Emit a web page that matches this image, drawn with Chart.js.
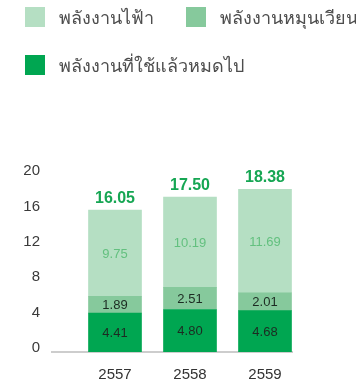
<!DOCTYPE html>
<html>
<head>
<meta charset="utf-8">
<script src="https://cdn.jsdelivr.net/npm/chart.js@4.4.1/dist/chart.umd.min.js"></script>
<style>
  html, body { margin: 0; padding: 0; background: #fff; }
  #wrap { position: relative; width: 356px; height: 383px; }
  #legend {
    position: absolute; left: 25px; top: 7px;
    display: grid; grid-template-columns: 161px auto; row-gap: 28px;
    font-family: "Liberation Sans", Arial, sans-serif; font-size: 18px; color: #4d4d4d;
  }
  .item { display: flex; align-items: center; height: 20px; white-space: nowrap; }
  .item.wide { grid-column: 1 / span 2; }
  .box { width: 20px; height: 20px; margin-right: 14px; flex: none; }
</style>
</head>
<body>
<div id="wrap">
  <canvas id="energyChart" width="356" height="383"></canvas>
  <div id="legend"></div>
</div>
<script>
// years (Buddhist era) and energy use per type
const years = [2557, 2558, 2559];
const fossil = [4.41, 4.80, 4.68];      // พลังงานที่ใช้แล้วหมดไป
const renewable = [1.89, 2.51, 2.01];   // พลังงานหมุนเวียน
const electric = [9.75, 10.19, 11.69];  // พลังงานไฟฟ้า
const yTicks = [0, 4, 8, 12, 16, 20];

const seriesNames = ["พลังงานที่ใช้แล้วหมดไป", "พลังงานหมุนเวียน", "พลังงานไฟ้า"];
const seriesColors = ["#00a651", "#86c99c", "#b5dfc3"];
const valueColors = ["#1c2b22", "#1c2b22", "#63c07f"];
const totalColor = "#16a653";
const FONT = '"Liberation Sans", Arial, sans-serif';

const series = [fossil, renewable, electric];

const datasets = series.map((vals, i) => ({
  label: seriesNames[i],
  data: years.map((yr, j) => ({ x: yr, y: vals[j] })),
  backgroundColor: seriesColors[i],
  borderWidth: 0,
  barThickness: 53,
}));

// numbers inside each segment plus the total above each bar
const valueLabels = {
  id: "valueLabels",
  afterDatasetsDraw(chart) {
    const ctx = chart.ctx;
    ctx.save();
    ctx.textAlign = "center";
    ctx.textBaseline = "middle";
    ctx.font = "13px " + FONT;
    series.forEach((vals, di) => {
      const meta = chart.getDatasetMeta(di);
      ctx.fillStyle = valueColors[di];
      meta.data.forEach((bar, i) => {
        ctx.fillText(vals[i].toFixed(2), bar.x, (bar.y + bar.base) / 2 + 1);
      });
    });
    const topMeta = chart.getDatasetMeta(series.length - 1);
    ctx.font = "bold 16px " + FONT;
    ctx.fillStyle = totalColor;
    ctx.textBaseline = "alphabetic";
    topMeta.data.forEach((bar, i) => {
      const total = series.reduce((s, vals) => s + vals[i], 0);
      ctx.fillText(total.toFixed(2), bar.x, bar.y - 7);
    });
    ctx.restore();
  }
};

const chart = new Chart(document.getElementById("energyChart"), {
  type: "bar",
  data: { datasets: datasets },
  plugins: [valueLabels],
  options: {
    responsive: false,
    animation: false,
    layout: { padding: { top: 175, right: 64, bottom: 1, left: 0 } },
    plugins: { legend: { display: false }, tooltip: { enabled: false } },
    scales: {
      x: {
        type: "linear",
        stacked: true,
        offset: false,
        min: 2556.16,
        max: 2559.36,
        grid: { display: false, drawTicks: false, offset: false },
        border: { display: true, color: "#cdcdcd", width: 2 },
        afterBuildTicks: (scale) => { scale.ticks = years.map(v => ({ value: v })); },
        afterFit: (scale) => { scale.height = 30; },
        ticks: {
          padding: 14,
          maxRotation: 0,
          color: "#333333",
          font: { family: FONT, size: 15 },
          callback: (v) => String(v),
        },
      },
      y: {
        stacked: true,
        min: 0,
        max: 20,
        grid: { display: false, drawTicks: false },
        border: { display: false },
        afterBuildTicks: (scale) => { scale.ticks = yTicks.map(v => ({ value: v })); },
        afterFit: (scale) => { scale.width = 52; },
        ticks: {
          padding: 12,
          labelOffset: -4,
          color: "#3a3a3a",
          font: { family: FONT, size: 15 },
        },
      },
    },
  },
});

// legend: electric and renewable on the first row, fossil on the second
const legend = document.getElementById("legend");
[2, 1, 0].forEach((i) => {
  const item = document.createElement("div");
  item.className = "item" + (i === 0 ? " wide" : "");
  const box = document.createElement("span");
  box.className = "box";
  box.style.background = seriesColors[i];
  const txt = document.createElement("span");
  txt.textContent = seriesNames[i];
  item.appendChild(box);
  item.appendChild(txt);
  legend.appendChild(item);
});
</script>
</body>
</html>
